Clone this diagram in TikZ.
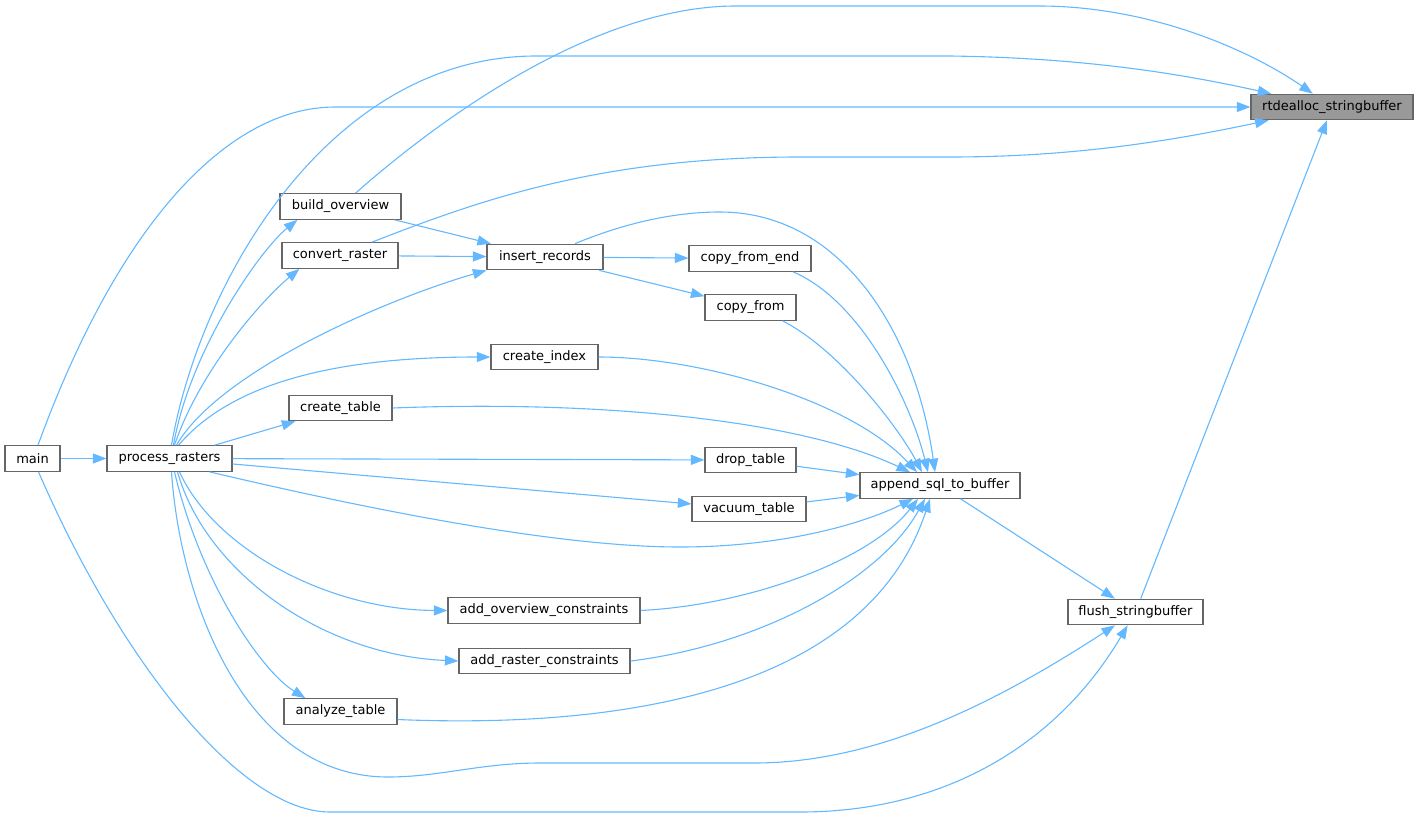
\documentclass[tikz,border=0pt]{standalone}
\usepackage{fontspec}
\setmainfont{DejaVu Sans}
\usetikzlibrary{arrows.meta}
\definecolor{edgeblue}{HTML}{63B8FF}
\definecolor{nodeborder}{HTML}{666666}
\definecolor{nodefill}{HTML}{999999}
\begin{document}
\begin{tikzpicture}[x=1pt,y=-1pt,
  fn/.style={draw=nodeborder, line width=1.2pt, fill=white, inner sep=0pt, minimum height=25.5pt,
    font=\fontsize{13}{15}\selectfont, text=black},
  cur/.style={fill=nodefill},
  edge/.style={draw=edgeblue, line width=1.1pt, -{Triangle[length=13.5pt,width=10pt]}, color=edgeblue}]
\useasboundingbox (0,0) rectangle (1419,819);

% nodes
\node[fn,cur,minimum width=162pt] (rt)  at (1332,107)   {rtdealloc\_stringbuffer};
\node[fn,minimum width=121pt] (bo)  at (340.5,206.5) {build\_overview};
\node[fn,minimum width=116pt] (cr)  at (340,255.5)   {convert\_raster};
\node[fn,minimum width=116pt] (ir)  at (545,257)     {insert\_records};
\node[fn,minimum width=122pt] (cfe) at (750,258.5)   {copy\_from\_end};
\node[fn,minimum width=91pt]  (cf)  at (750.5,307.5) {copy\_from};
\node[fn,minimum width=107pt] (ci)  at (544.5,357)   {create\_index};
\node[fn,minimum width=103pt] (ct)  at (340.5,408)   {create\_table};
\node[fn,minimum width=55pt]  (mn)  at (32.5,458.5)  {main};
\node[fn,minimum width=125pt] (pr)  at (169.5,458.5) {process\_rasters};
\node[fn,minimum width=91pt]  (dt)  at (750.5,460)   {drop\_table};
\node[fn,minimum width=160pt] (as)  at (940,485.5)   {append\_sql\_to\_buffer};
\node[fn,minimum width=114pt] (vt)  at (749,509)     {vacuum\_table};
\node[fn,minimum width=135pt] (fs)  at (1135.5,612)  {flush\_stringbuffer};
\node[fn,minimum width=192pt] (aoc) at (544,610.5)   {add\_overview\_constraints};
\node[fn,minimum width=171pt] (arc) at (544.5,661)   {add\_raster\_constraints};
\node[fn,minimum width=113pt] (at)  at (340.5,711.5) {analyze\_table};

% edges into rtdealloc_stringbuffer
\draw[edge] ([xshift=5.5pt]mn.north) .. controls (120,220) and (230,107) .. (335,107) -- (rt);
\draw[edge] ([xshift=2pt]pr.north) .. controls (200,280) and (330,56) .. (536,56) -- (950,56)
   .. controls (1100,58) and (1200,78) .. (rt);
\draw[edge] ([xshift=15pt]bo.north) .. controls (450,110) and (600,6) .. (736,6) -- (1039,6)
   .. controls (1150,6) and (1250,50) .. (rt);
\draw[edge] ([xshift=32pt]cr.north) .. controls (480,200) and (600,157) .. (800,157) -- (950,157)
   .. controls (1080,157) and (1180,139) .. (rt);
\draw[edge] (fs) -- (rt);

% edges into flush_stringbuffer
\draw[edge] ([xshift=6pt]mn.south) .. controls (120,660) and (240,812) .. (330,812) -- (800,812)
   .. controls (950,812) and (1060,740) .. (fs);
\draw[edge] ([xshift=2pt]pr.south) .. controls (180,600) and (245,777) .. (388,777)
   .. controls (440,777) and (480,763) .. (540,763) -- (754,763)
   .. controls (880,763) and (1000,700) .. (fs);
\draw[edge] (as) -- (fs);

% main -> process_rasters
\draw[edge] (mn) -- (pr);

% process_rasters -> callees
\draw[edge] ([xshift=4pt]pr.north) .. controls (190,350) and (260,250) .. ([xshift=18pt]bo.south west);
\draw[edge] ([xshift=5pt]pr.north) .. controls (200,370) and (262,300) .. ([xshift=18pt]cr.south west);
\draw[edge] ([xshift=7pt]pr.north) .. controls (220,370) and (390,298) .. (ir.south west);
\draw[edge] ([xshift=9pt]pr.north) .. controls (230,385) and (330,357) .. (ci.west);
\draw[edge] (pr) -- (ct);
\draw[edge] (pr) -- (dt);
\draw[edge] (pr) -- (vt);
\draw[edge] ([xshift=40pt]pr.south) .. controls (350,505) and (550,547) .. (680,547)
   .. controls (780,547) and (860,525) .. ([xshift=-27pt]as.south);
\draw[edge] ([xshift=10pt]pr.south) .. controls (215,550) and (330,610) .. (aoc.west);
\draw[edge] ([xshift=8pt]pr.south) .. controls (205,570) and (320,655) .. (arc.west);
\draw[edge] ([xshift=5pt]pr.south) .. controls (200,580) and (260,670) .. ([xshift=22pt]at.north west);

% build_overview / convert_raster -> insert_records
\draw[edge] (bo) -- (ir);
\draw[edge] (cr) -- (ir);

% insert_records -> callees
\draw[edge] (ir) -- (cfe);
\draw[edge] (ir) -- (cf);
\draw[edge] ([xshift=30pt]ir.north) .. controls (620,225) and (670,212) .. (720,212)
   .. controls (840,212) and (915,330) .. ([xshift=-5pt]as.north);

% into append_sql_to_buffer
\draw[edge] ([xshift=43pt]cfe.south) .. controls (860,300) and (910,400) .. ([xshift=-12pt]as.north);
\draw[edge] ([xshift=32pt]cf.south) .. controls (840,350) and (900,430) .. ([xshift=-18pt]as.north);
\draw[edge] (ci.east) .. controls (700,357) and (850,400) .. ([xshift=-23pt]as.north);
\draw[edge] (ct.east) .. controls (600,400) and (800,420) .. ([xshift=-30pt]as.north);
\draw[edge] (dt) -- (as);
\draw[edge] (vt) -- (as);
\draw[edge] (aoc.east) .. controls (750,605) and (870,560) .. ([xshift=-22pt]as.south);
\draw[edge] (arc.east) .. controls (760,645) and (880,580) .. ([xshift=-15pt]as.south);
\draw[edge] (at.-8) .. controls (650,730) and (870,680) .. ([xshift=-10pt]as.south);
\end{tikzpicture}
\end{document}
